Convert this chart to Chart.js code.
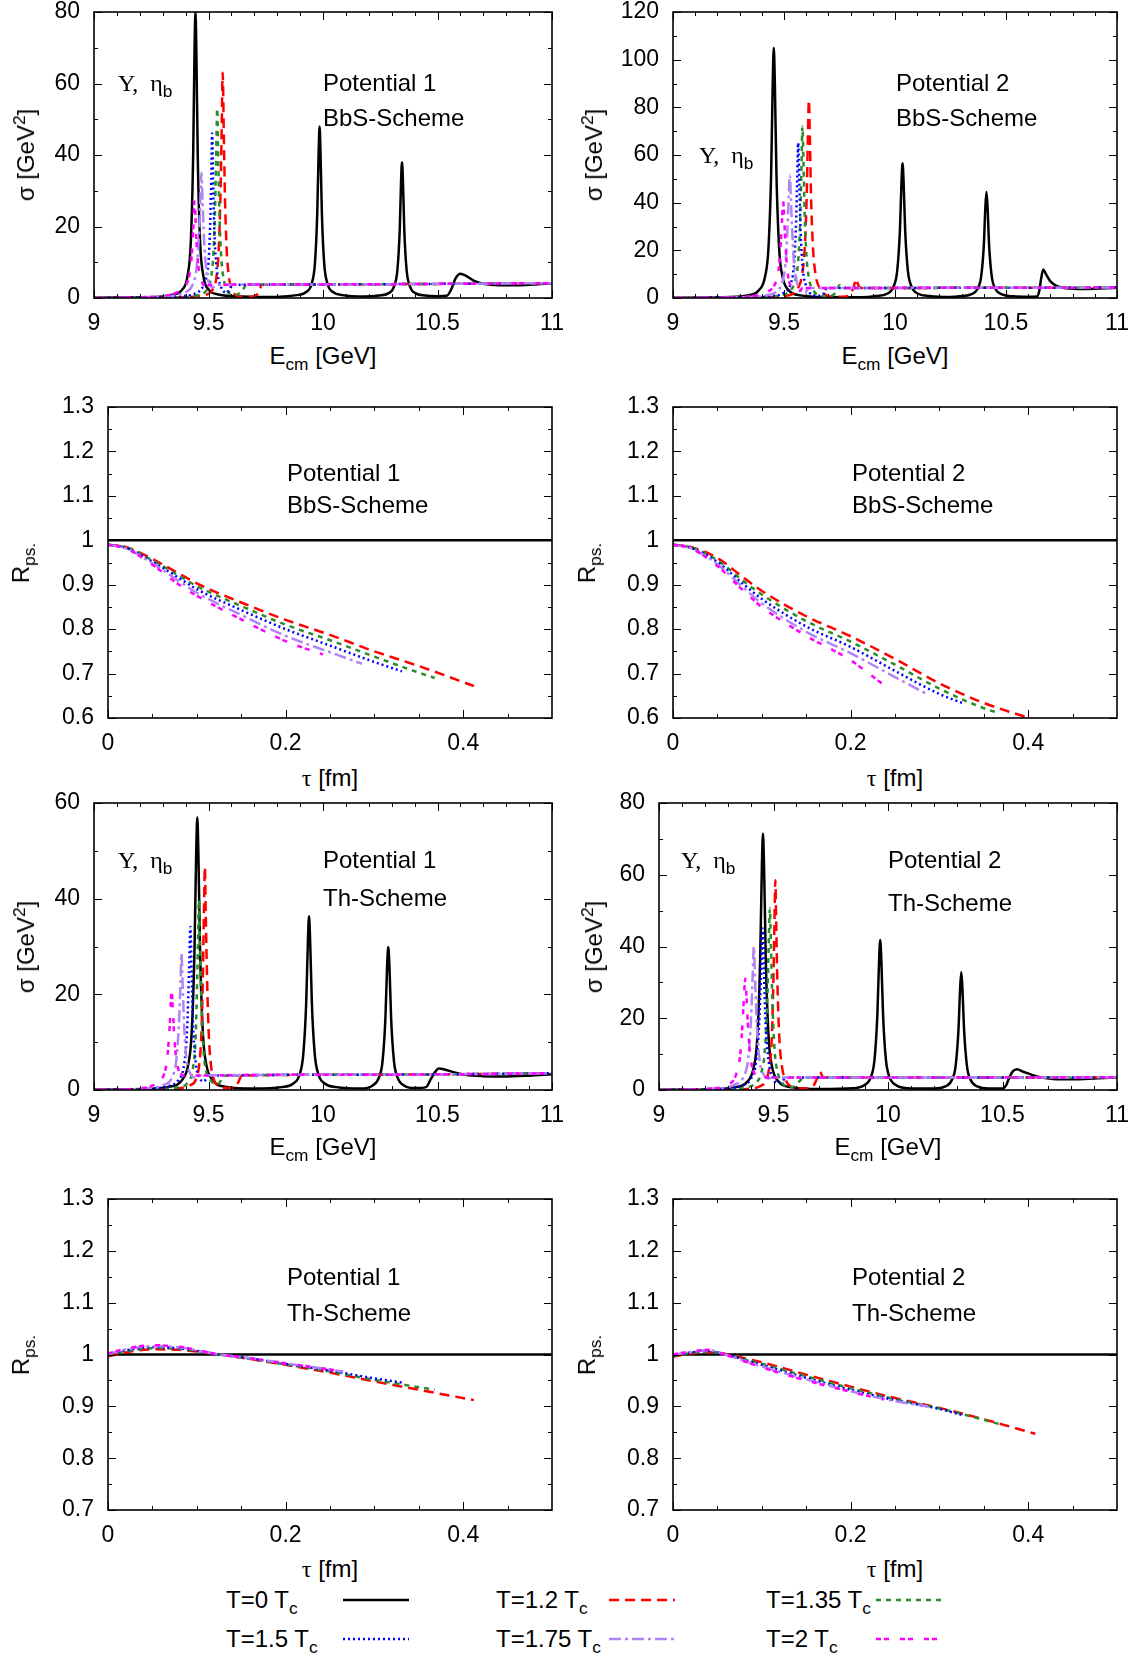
<!DOCTYPE html>
<html>
<head>
<meta charset="utf-8">
<script src="https://cdn.jsdelivr.net/npm/chart.js@4.4.1/dist/chart.umd.min.js"></script>
<style>
body { margin: 0; background: #fff; overflow: hidden; }
#fig { position: relative; width: 1139px; height: 1660px; overflow: hidden;
       font-family: 'Liberation Sans', Arial, sans-serif; color: #000; }
#fig canvas, #fig svg { position: absolute; }
.t { position: absolute; white-space: nowrap; line-height: 1; font-size: 24px; }
.c { transform: translate(-50%, -50%); }
.v { transform: translate(-50%, -50%) rotate(-90deg); }
.l { transform: translate(0, -50%); }
sub, sup { font-size: 0.72em; line-height: 0; }
.g { font-family: 'Liberation Serif', 'Times New Roman', serif; }
</style>
</head>
<body>
<div id="fig"></div>
<script>
// temperatures, one line per curve
const tempLabels = ['T=0 T', 'T=1.2 T', 'T=1.35 T', 'T=1.5 T', 'T=1.75 T', 'T=2 T']
const tempColors = ['#000000', '#ff0000', '#2a8c2a', '#0000ff', '#b283f5', '#ff00ff']
const tempDashes = [[], [10, 6], [5, 5], [2, 3], [12, 4, 3, 4], [5, 3, 5, 11]]

// tick values
const ticksE = [9, 9.5, 10, 10.5, 11]
const ticksELabels = ['9', '9.5', '10', '10.5', '11']
const minorE = [9.1, 9.2, 9.3, 9.4, 9.6, 9.7, 9.8, 9.9, 10.1, 10.2, 10.3, 10.4, 10.6, 10.7, 10.8, 10.9]
const ticksTau = [0, 0.2, 0.4]
const ticksTauLabels = ['0', '0.2', '0.4']
const minorTau = [0.05, 0.1, 0.15, 0.25, 0.3, 0.35, 0.45]
const ticksSig60 = [0, 20, 40, 60]
const minorSig60 = [10, 30, 50]
const ticksSig80 = [0, 20, 40, 60, 80]
const minorSig80 = [10, 30, 50, 70]
const ticksSig120 = [0, 20, 40, 60, 80, 100, 120]
const minorSig120 = [10, 30, 50, 70, 90, 110]
const ticksR6 = [0.6, 0.7, 0.8, 0.9, 1, 1.1, 1.2, 1.3]
const ticksR6Labels = ['0.6', '0.7', '0.8', '0.9', '1', '1.1', '1.2', '1.3']
const minorR6 = [0.65, 0.75, 0.85, 0.95, 1.05, 1.15, 1.25]
const ticksR7 = [0.7, 0.8, 0.9, 1, 1.1, 1.2, 1.3]
const ticksR7Labels = ['0.7', '0.8', '0.9', '1', '1.1', '1.2', '1.3']
const minorR7 = [0.75, 0.85, 0.95, 1.05, 1.15, 1.25]

// ---- Potential 1, BbS scheme : sigma vs E_cm ----
const sigBbs1_T0 = [[9.0,0.1],[9.2,0.2],[9.3,0.4],[9.343,0.9],[9.383,2.2],[9.408,6],[9.423,16],[9.433,40],[9.439,69],[9.443,80],[9.447,69],[9.453,40],[9.463,16],[9.478,6],[9.503,2.2],[9.543,1.0],[9.62,0.5],[9.75,0.3],[9.885,0.8],[9.925,1.6],[9.95,3.9],[9.965,9.9],[9.975,24],[9.981,41],[9.985,48],[9.989,41],[9.995,24],[10.005,9.9],[10.02,3.9],[10.045,1.6],[10.085,0.8],[10.18,0.4],[10.245,0.7],[10.285,1.3],[10.31,3.2],[10.325,7.9],[10.335,19],[10.341,33],[10.345,38],[10.349,33],[10.355,19],[10.365,7.9],[10.38,3.2],[10.405,1.3],[10.445,0.7],[10.5,0.5],[10.54,0.6],[10.56,2.4],[10.58,5.6],[10.6,6.8],[10.625,6.2],[10.66,4.8],[10.7,4.0],[10.77,3.6],[10.85,3.6],[10.95,3.9],[11.0,4.1]]
const sigBbs1_T12 = [[9.0,0],[9.3,0.1],[9.42,0.3],[9.47,0.7],[9.5,1.2],[9.52,2.6],[9.535,6],[9.545,14],[9.552,28],[9.557,45],[9.562,63],[9.567,45],[9.572,28],[9.579,14],[9.589,6],[9.6,2.6],[9.615,1.0],[9.64,0.4],[9.67,0.3],[9.7,0.5],[9.715,1.2],[9.725,2.6],[9.732,3.7],[10.0,3.8],[10.5,3.95],[11.0,4.15]]
const sigBbs1_T135 = [[9.0,0],[9.3,0.1],[9.42,0.4],[9.46,0.9],[9.49,2.0],[9.508,4.8],[9.52,11],[9.528,23],[9.533,38],[9.538,53],[9.543,38],[9.548,23],[9.556,11],[9.568,4.8],[9.582,2.0],[9.6,1.0],[9.62,0.9],[9.64,1.6],[9.655,2.8],[9.665,3.7],[10.0,3.8],[10.5,3.95],[11.0,4.15]]
const sigBbs1_T15 = [[9.0,0],[9.3,0.2],[9.4,0.6],[9.44,1.2],[9.47,2.6],[9.488,5],[9.5,10],[9.507,20],[9.512,33],[9.516,46],[9.52,33],[9.525,20],[9.533,10],[9.545,5],[9.56,2.4],[9.575,1.5],[9.59,2.0],[9.605,3.7],[10.0,3.8],[10.5,3.95],[11.0,4.15]]
const sigBbs1_T175 = [[9.0,0],[9.25,0.2],[9.35,0.7],[9.4,1.6],[9.43,3.6],[9.447,8],[9.458,17],[9.464,27],[9.469,35],[9.474,27],[9.48,17],[9.49,8],[9.505,3.8],[9.52,3.0],[9.535,3.7],[10.0,3.8],[10.5,3.95],[11.0,4.15]]
const sigBbs1_T2 = [[9.0,0],[9.2,0.2],[9.3,0.6],[9.36,1.5],[9.4,3.5],[9.418,7],[9.429,14],[9.435,22],[9.439,27.5],[9.444,21],[9.45,13],[9.46,7],[9.475,4],[9.49,3.4],[9.51,3.7],[10.0,3.8],[10.5,3.95],[11.0,4.15]]

// ---- Potential 2, BbS scheme : sigma vs E_cm ----
const sigBbs2_T0 = [[9.0,0.1],[9.2,0.3],[9.334,1.1],[9.384,3.0],[9.414,8.7],[9.43,21],[9.442,52],[9.449,89],[9.454,105],[9.459,89],[9.466,52],[9.478,21],[9.494,8.7],[9.524,3.0],[9.574,1.1],[9.7,0.4],[9.85,0.3],[9.914,0.8],[9.964,1.8],[9.994,4.9],[10.01,11.5],[10.022,28],[10.029,48],[10.034,56.5],[10.039,48],[10.046,28],[10.058,11.5],[10.074,4.9],[10.104,1.8],[10.154,0.8],[10.25,0.4],[10.292,0.7],[10.342,1.5],[10.372,3.9],[10.388,9],[10.4,22],[10.407,38],[10.412,44.5],[10.417,38],[10.424,22],[10.436,9],[10.452,3.9],[10.482,1.5],[10.532,0.7],[10.6,0.5],[10.64,0.6],[10.65,3],[10.658,8],[10.668,12],[10.68,10],[10.7,7],[10.73,5],[10.77,4.1],[10.85,3.8],[10.95,4.1],[11.0,4.3]]
const sigBbs2_T12 = [[9.0,0],[9.3,0.1],[9.45,0.4],[9.5,0.8],[9.54,1.8],[9.565,4.5],[9.582,10],[9.594,22],[9.602,42],[9.607,65],[9.612,83],[9.617,65],[9.622,42],[9.63,22],[9.642,10],[9.66,4.2],[9.68,1.8],[9.7,0.8],[9.74,0.5],[9.78,0.6],[9.8,1.8],[9.815,5],[9.824,8],[9.83,6.5],[9.838,4.8],[9.85,4.2],[10.2,4.25],[10.7,4.3],[11.0,4.4]]
const sigBbs2_T135 = [[9.0,0],[9.3,0.1],[9.45,0.6],[9.5,1.4],[9.53,3.2],[9.552,8],[9.566,18],[9.574,36],[9.579,56],[9.583,72],[9.588,56],[9.593,36],[9.601,18],[9.613,8],[9.632,3.2],[9.655,1.2],[9.69,0.6],[9.72,1.2],[9.74,3.5],[9.75,5.5],[9.758,4.5],[9.77,4.2],[10.2,4.25],[10.7,4.3],[11.0,4.4]]
const sigBbs2_T15 = [[9.0,0],[9.3,0.2],[9.45,0.9],[9.5,2.2],[9.528,5.5],[9.544,13],[9.553,28],[9.559,48],[9.564,65],[9.569,48],[9.575,28],[9.584,13],[9.598,5.5],[9.615,2.2],[9.64,1.0],[9.66,0.9],[9.68,2.0],[9.695,4.5],[9.705,4.2],[10.2,4.25],[10.7,4.3],[11.0,4.4]]
const sigBbs2_T175 = [[9.0,0],[9.3,0.3],[9.42,1.2],[9.47,3.0],[9.495,7.5],[9.508,16],[9.516,30],[9.521,42],[9.526,51.5],[9.531,42],[9.536,30],[9.544,16],[9.556,7.5],[9.575,3.0],[9.595,2.2],[9.61,4.2],[10.2,4.25],[10.7,4.3],[11.0,4.4]]
const sigBbs2_T2 = [[9.0,0],[9.25,0.3],[9.38,1.2],[9.43,2.8],[9.46,6],[9.476,12],[9.486,24],[9.491,33],[9.496,41],[9.501,33],[9.507,22],[9.516,11],[9.53,5],[9.55,2.8],[9.57,3.0],[9.585,4.2],[10.2,4.25],[10.7,4.3],[11.0,4.4]]

// ---- Potential 1, BbS scheme : R_ps vs tau ----
const rBbs1_T0 = [[0,1],[0.5,1]]
const rBbs1_T12 = [[0,0.99],[0.02,0.985],[0.05,0.958],[0.08,0.925],[0.1,0.903],[0.15,0.86],[0.2,0.821],[0.25,0.787],[0.3,0.75],[0.35,0.717],[0.412,0.672]]
const rBbs1_T135 = [[0,0.99],[0.02,0.984],[0.05,0.955],[0.08,0.92],[0.1,0.897],[0.15,0.852],[0.2,0.81],[0.25,0.775],[0.3,0.738],[0.35,0.702],[0.368,0.69]]
const rBbs1_T15 = [[0,0.99],[0.02,0.983],[0.05,0.952],[0.08,0.915],[0.1,0.89],[0.15,0.843],[0.2,0.8],[0.25,0.763],[0.3,0.726],[0.331,0.705]]
const rBbs1_T175 = [[0,0.99],[0.02,0.982],[0.05,0.948],[0.08,0.908],[0.1,0.882],[0.15,0.832],[0.2,0.785],[0.25,0.748],[0.286,0.722]]
const rBbs1_T2 = [[0,0.99],[0.02,0.982],[0.05,0.945],[0.08,0.9],[0.1,0.875],[0.15,0.822],[0.2,0.773],[0.242,0.743]]

// ---- Potential 2, BbS scheme : R_ps vs tau ----
const rBbs2_T0 = [[0,1],[0.5,1]]
const rBbs2_T12 = [[0,0.99],[0.02,0.985],[0.05,0.96],[0.08,0.915],[0.1,0.886],[0.15,0.829],[0.2,0.784],[0.25,0.733],[0.3,0.678],[0.35,0.634],[0.404,0.598]]
const rBbs2_T135 = [[0,0.99],[0.02,0.984],[0.05,0.955],[0.08,0.907],[0.1,0.878],[0.15,0.818],[0.2,0.772],[0.25,0.72],[0.3,0.666],[0.35,0.622],[0.367,0.611]]
const rBbs2_T15 = [[0,0.99],[0.02,0.983],[0.05,0.951],[0.08,0.9],[0.1,0.868],[0.15,0.806],[0.2,0.76],[0.25,0.706],[0.3,0.654],[0.328,0.632]]
const rBbs2_T175 = [[0,0.99],[0.02,0.982],[0.05,0.946],[0.08,0.892],[0.1,0.858],[0.15,0.794],[0.2,0.746],[0.25,0.692],[0.285,0.655]]
const rBbs2_T2 = [[0,0.99],[0.02,0.982],[0.05,0.942],[0.08,0.885],[0.1,0.85],[0.15,0.785],[0.2,0.73],[0.237,0.675]]

// ---- Potential 1, Th scheme : sigma vs E_cm ----
const sigTh1_T0 = [[9.0,0.1],[9.2,0.2],[9.331,0.7],[9.381,1.9],[9.411,5.2],[9.426,11.5],[9.4385,28.5],[9.446,49],[9.451,57],[9.456,49],[9.4635,28.5],[9.476,11.5],[9.491,5.2],[9.521,1.9],[9.571,0.7],[9.7,0.3],[9.819,0.6],[9.869,1.3],[9.899,3.4],[9.914,7.5],[9.9265,18],[9.934,31],[9.939,36.3],[9.944,31],[9.9515,18],[9.964,7.5],[9.979,3.4],[10.009,1.3],[10.059,0.6],[10.165,0.3],[10.215,0.9],[10.245,2.7],[10.26,6.0],[10.2725,15],[10.28,26],[10.285,29.9],[10.29,26],[10.2975,15],[10.31,6.0],[10.325,2.7],[10.355,0.9],[10.405,0.4],[10.45,0.6],[10.47,2.2],[10.49,3.8],[10.505,4.5],[10.53,4.3],[10.57,3.7],[10.62,3.2],[10.7,2.9],[10.78,2.8],[10.9,3.0],[11.0,3.3]]
const sigTh1_T12 = [[9.0,0],[9.3,0.1],[9.38,0.4],[9.42,1.0],[9.445,2.2],[9.46,5.5],[9.47,13],[9.476,25],[9.48,37],[9.484,46.6],[9.488,37],[9.493,25],[9.5,13],[9.51,5.5],[9.525,2.0],[9.545,0.8],[9.58,0.4],[9.61,0.6],[9.63,1.6],[9.645,3.0],[10.2,3.2],[10.7,3.35],[11.0,3.5]]
const sigTh1_T135 = [[9.0,0],[9.3,0.2],[9.37,0.6],[9.41,1.6],[9.432,4.5],[9.444,11],[9.451,24],[9.455,33],[9.458,39.7],[9.462,32],[9.468,20],[9.477,9],[9.49,3.8],[9.51,2.0],[9.53,1.2],[9.55,1.6],[9.565,3.0],[10.2,3.2],[10.7,3.35],[11.0,3.5]]
const sigTh1_T15 = [[9.0,0],[9.25,0.3],[9.33,0.9],[9.37,2.2],[9.394,5.5],[9.407,13],[9.415,25],[9.421,34.1],[9.426,25],[9.433,13],[9.445,5.5],[9.46,2.6],[9.48,1.8],[9.5,3.0],[10.2,3.2],[10.7,3.35],[11.0,3.5]]
const sigTh1_T175 = [[9.0,0],[9.22,0.3],[9.3,1.0],[9.34,2.6],[9.36,6.5],[9.372,15],[9.378,23],[9.382,28.5],[9.387,22],[9.394,13],[9.405,6],[9.42,3.5],[9.435,2.6],[9.45,3.0],[10.2,3.2],[10.7,3.35],[11.0,3.5]]
const sigTh1_T2 = [[9.0,0],[9.18,0.3],[9.26,1.0],[9.3,2.6],[9.318,6],[9.33,13],[9.335,18],[9.339,21.2],[9.344,17],[9.352,10],[9.365,5],[9.385,3.2],[9.41,2.8],[9.43,3.0],[10.2,3.2],[10.7,3.35],[11.0,3.5]]

// ---- Potential 2, Th scheme : sigma vs E_cm ----
const sigTh2_T0 = [[9.0,0.1],[9.2,0.2],[9.334,0.8],[9.384,2.2],[9.414,6.4],[9.429,14.3],[9.4415,35.8],[9.449,61.5],[9.454,71.5],[9.459,61.5],[9.4665,35.8],[9.479,14.3],[9.494,6.4],[9.524,2.2],[9.574,0.8],[9.7,0.3],[9.846,0.5],[9.896,1.3],[9.926,3.7],[9.941,8.4],[9.9535,20.9],[9.961,36],[9.966,41.8],[9.971,36],[9.9785,20.9],[9.991,8.4],[10.006,3.7],[10.036,1.3],[10.086,0.5],[10.2,0.4],[10.25,1.0],[10.28,2.9],[10.295,6.6],[10.3075,16.5],[10.315,28.3],[10.32,32.9],[10.325,28.3],[10.3325,16.5],[10.345,6.6],[10.36,2.9],[10.39,1.0],[10.44,0.4],[10.5,0.4],[10.515,1.2],[10.53,3.5],[10.545,5.2],[10.563,5.8],[10.59,5.1],[10.65,3.8],[10.72,3.1],[10.8,3.0],[10.9,3.2],[11.0,3.5]]
const sigTh2_T12 = [[9.0,0],[9.3,0.1],[9.4,0.4],[9.44,1.0],[9.465,2.5],[9.482,6.5],[9.493,15],[9.5,32],[9.504,46],[9.508,58.5],[9.512,46],[9.517,30],[9.525,15],[9.537,6.5],[9.555,2.5],[9.575,1.0],[9.6,0.5],[9.65,0.4],[9.675,1.2],[9.69,3.2],[9.703,5.1],[9.712,4.0],[9.72,3.5],[10.2,3.5],[10.7,3.5],[11.0,3.55]]
const sigTh2_T135 = [[9.0,0],[9.3,0.2],[9.38,0.7],[9.42,1.8],[9.445,4.5],[9.462,11],[9.473,25],[9.479,40],[9.484,50.6],[9.489,40],[9.495,25],[9.505,11],[9.52,4.5],[9.54,1.8],[9.565,0.8],[9.59,1.0],[9.61,2.2],[9.625,3.2],[9.635,3.5],[10.2,3.5],[10.7,3.5],[11.0,3.55]]
const sigTh2_T15 = [[9.0,0],[9.28,0.3],[9.36,1.2],[9.4,3.0],[9.423,7.5],[9.437,18],[9.446,33],[9.452,45],[9.458,33],[9.466,18],[9.48,7.5],[9.5,3.0],[9.52,2.0],[9.54,2.6],[9.555,3.5],[10.2,3.5],[10.7,3.5],[11.0,3.55]]
const sigTh2_T175 = [[9.0,0],[9.25,0.4],[9.33,1.5],[9.37,3.8],[9.39,9],[9.402,20],[9.409,32],[9.414,39.9],[9.42,30],[9.428,17],[9.44,8],[9.46,4],[9.48,3.2],[9.5,3.5],[10.2,3.5],[10.7,3.5],[11.0,3.55]]
const sigTh2_T2 = [[9.0,0],[9.22,0.4],[9.3,1.5],[9.335,4],[9.355,10],[9.366,20],[9.372,27],[9.377,31.1],[9.382,26],[9.39,16],[9.402,8],[9.42,4.2],[9.44,3.3],[9.46,3.5],[10.2,3.5],[10.7,3.5],[11.0,3.55]]

// ---- Potential 1, Th scheme : R_ps vs tau ----
const rTh1_T0 = [[0,1],[0.5,1]]
const rTh1_T12 = [[0,0.996],[0.02,1.004],[0.05,1.01],[0.08,1.009],[0.1,1.006],[0.125,1.0],[0.15,0.994],[0.2,0.98],[0.25,0.965],[0.3,0.948],[0.35,0.932],[0.412,0.912]]
const rTh1_T135 = [[0,0.998],[0.02,1.006],[0.05,1.012],[0.08,1.011],[0.1,1.007],[0.125,1.0],[0.15,0.994],[0.2,0.981],[0.25,0.967],[0.3,0.951],[0.35,0.937],[0.368,0.932]]
const rTh1_T15 = [[0,1.0],[0.02,1.008],[0.05,1.014],[0.08,1.012],[0.1,1.007],[0.125,1.0],[0.15,0.995],[0.2,0.982],[0.25,0.969],[0.3,0.954],[0.331,0.946]]
const rTh1_T175 = [[0,1.0],[0.02,1.01],[0.05,1.016],[0.08,1.014],[0.1,1.008],[0.125,1.0],[0.15,0.995],[0.2,0.983],[0.25,0.971],[0.265,0.967]]
const rTh1_T2 = [[0,1.002],[0.02,1.011],[0.05,1.018],[0.08,1.015],[0.1,1.009],[0.125,1.0],[0.15,0.995],[0.2,0.983],[0.25,0.971],[0.26,0.968]]

// ---- Potential 2, Th scheme : R_ps vs tau ----
const rTh2_T0 = [[0,1],[0.5,1]]
const rTh2_T12 = [[0,0.996],[0.02,1.002],[0.04,1.005],[0.06,1.001],[0.08,0.993],[0.1,0.985],[0.15,0.961],[0.2,0.938],[0.25,0.916],[0.3,0.897],[0.35,0.875],[0.408,0.847]]
const rTh2_T135 = [[0,0.997],[0.02,1.003],[0.04,1.006],[0.06,1.0],[0.08,0.991],[0.1,0.982],[0.15,0.958],[0.2,0.935],[0.25,0.914],[0.3,0.896],[0.35,0.874],[0.367,0.866]]
const rTh2_T15 = [[0,0.998],[0.02,1.004],[0.04,1.007],[0.06,1.0],[0.08,0.99],[0.1,0.98],[0.15,0.955],[0.2,0.932],[0.25,0.912],[0.3,0.895],[0.328,0.882]]
const rTh2_T175 = [[0,0.999],[0.02,1.005],[0.04,1.008],[0.06,0.999],[0.08,0.988],[0.1,0.977],[0.15,0.952],[0.2,0.929],[0.25,0.91],[0.287,0.9]]
const rTh2_T2 = [[0,1.0],[0.02,1.006],[0.04,1.009],[0.06,0.999],[0.08,0.987],[0.1,0.975],[0.15,0.95],[0.2,0.928],[0.237,0.913]]

Chart.defaults.font.family = "'Liberation Sans', Arial, sans-serif"
Chart.defaults.font.size = 23
Chart.defaults.color = '#000'

const fig = document.querySelector('#fig')

const sigTitle = 'σ [GeV<sup>2</sup>]'
const eTitle = 'E<sub>cm</sub> [GeV]'
const rTitle = 'R<sub>ps.</sub>'
const tauTitle = '<span class="g">τ</span> [fm]'
const upsilon = '<span class="g">Υ,&nbsp; η</span><sub>b</sub>'

// plot boxes (pixels) and what goes in them
const panels = [
    { L: 94, T: 12, R: 552, B: 298, series: [sigBbs1_T0, sigBbs1_T12, sigBbs1_T135, sigBbs1_T15, sigBbs1_T175, sigBbs1_T2],
      x: [9, 11, ticksE, ticksELabels, minorE], y: [0, 80, ticksSig80, ticksSig80.map(String), minorSig80],
      xt: [eTitle, 356], yt: [sigTitle, 26],
      notes: [[323, 83, 'Potential 1'], [323, 118, 'BbS-Scheme'], [118, 83, upsilon]] },
    { L: 673, T: 12, R: 1117, B: 298, series: [sigBbs2_T0, sigBbs2_T12, sigBbs2_T135, sigBbs2_T15, sigBbs2_T175, sigBbs2_T2],
      x: [9, 11, ticksE, ticksELabels, minorE], y: [0, 120, ticksSig120, ticksSig120.map(String), minorSig120],
      xt: [eTitle, 356], yt: [sigTitle, 594],
      notes: [[896, 83, 'Potential 2'], [896, 118, 'BbS-Scheme'], [699, 155, upsilon]] },
    { L: 108, T: 407, R: 552, B: 718, series: [rBbs1_T0, rBbs1_T12, rBbs1_T135, rBbs1_T15, rBbs1_T175, rBbs1_T2],
      x: [0, 0.5, ticksTau, ticksTauLabels, minorTau], y: [0.6, 1.3, ticksR6, ticksR6Labels, minorR6],
      xt: [tauTitle, 778], yt: [rTitle, 21],
      notes: [[287, 473, 'Potential 1'], [287, 505, 'BbS-Scheme']] },
    { L: 673, T: 407, R: 1117, B: 718, series: [rBbs2_T0, rBbs2_T12, rBbs2_T135, rBbs2_T15, rBbs2_T175, rBbs2_T2],
      x: [0, 0.5, ticksTau, ticksTauLabels, minorTau], y: [0.6, 1.3, ticksR6, ticksR6Labels, minorR6],
      xt: [tauTitle, 778], yt: [rTitle, 587],
      notes: [[852, 473, 'Potential 2'], [852, 505, 'BbS-Scheme']] },
    { L: 94, T: 803, R: 552, B: 1090, series: [sigTh1_T0, sigTh1_T12, sigTh1_T135, sigTh1_T15, sigTh1_T175, sigTh1_T2],
      x: [9, 11, ticksE, ticksELabels, minorE], y: [0, 60, ticksSig60, ticksSig60.map(String), minorSig60],
      xt: [eTitle, 1147], yt: [sigTitle, 26],
      notes: [[323, 860, 'Potential 1'], [323, 898, 'Th-Scheme'], [118, 860, upsilon]] },
    { L: 659, T: 803, R: 1117, B: 1090, series: [sigTh2_T0, sigTh2_T12, sigTh2_T135, sigTh2_T15, sigTh2_T175, sigTh2_T2],
      x: [9, 11, ticksE, ticksELabels, minorE], y: [0, 80, ticksSig80, ticksSig80.map(String), minorSig80],
      xt: [eTitle, 1147], yt: [sigTitle, 594],
      notes: [[888, 860, 'Potential 2'], [888, 903, 'Th-Scheme'], [681, 860, upsilon]] },
    { L: 108, T: 1199, R: 552, B: 1510, series: [rTh1_T0, rTh1_T12, rTh1_T135, rTh1_T15, rTh1_T175, rTh1_T2],
      x: [0, 0.5, ticksTau, ticksTauLabels, minorTau], y: [0.7, 1.3, ticksR7, ticksR7Labels, minorR7],
      xt: [tauTitle, 1569], yt: [rTitle, 21],
      notes: [[287, 1277, 'Potential 1'], [287, 1313, 'Th-Scheme']] },
    { L: 673, T: 1199, R: 1117, B: 1510, series: [rTh2_T0, rTh2_T12, rTh2_T135, rTh2_T15, rTh2_T175, rTh2_T2],
      x: [0, 0.5, ticksTau, ticksTauLabels, minorTau], y: [0.7, 1.3, ticksR7, ticksR7Labels, minorR7],
      xt: [tauTitle, 1569], yt: [rTitle, 587],
      notes: [[852, 1277, 'Potential 2'], [852, 1313, 'Th-Scheme']] },
]

//gnuplot style frame: box plus inward major/minor ticks on all four sides
const frame = {
    id: 'frame',
    afterDatasetsDraw(chart, args, o) {
        const { ctx, chartArea: a, scales: { x, y } } = chart
        ctx.save()
        ctx.strokeStyle = '#000'
        ctx.lineWidth = 1
        ctx.beginPath()
        const xt = (vals, len) => vals.forEach(v => {
            const px = Math.round(x.getPixelForValue(v)) + 0.5
            ctx.moveTo(px, a.bottom); ctx.lineTo(px, a.bottom - len)
            ctx.moveTo(px, a.top); ctx.lineTo(px, a.top + len)
        })
        const yt = (vals, len) => vals.forEach(v => {
            const py = Math.round(y.getPixelForValue(v)) + 0.5
            ctx.moveTo(a.left, py); ctx.lineTo(a.left + len, py)
            ctx.moveTo(a.right, py); ctx.lineTo(a.right - len, py)
        })
        xt(o.xMajor, 8); xt(o.xMinor, 4)
        yt(o.yMajor, 8); yt(o.yMinor, 4)
        ctx.stroke()
        ctx.lineWidth = 1.6
        ctx.strokeRect(a.left, a.top, a.width, a.height)
        ctx.restore()
    }
}

function addText(html, x, y, cls) {
    const d = document.createElement('div')
    d.className = 't ' + cls
    d.style.left = x + 'px'
    d.style.top = y + 'px'
    d.innerHTML = html
    fig.append(d)
}

function makePanel(p) {
    //room around the plot box: the scale paddings include the tick padding,
    //so the top/right margins have to be big enough to not push the box in
    const yW = 80, padT = 34, padR = 28, xH = 44
    const w = p.R - p.L + yW + padR, h = p.B - p.T + padT + xH
    const cv = document.createElement('canvas')
    cv.style.left = (p.L - yW) + 'px'
    cv.style.top = (p.T - padT) + 'px'
    cv.style.width = w + 'px'
    cv.style.height = h + 'px'
    cv.width = w
    cv.height = h
    fig.append(cv)
    const [xMin, xMax, xTicks, xLabels, xMinor] = p.x
    const [yMin, yMax, yTicks, yLabels, yMinor] = p.y
    new Chart(cv, {
        type: 'line',
        data: {
            datasets: p.series.map((pts, i) => ({
                label: tempLabels[i],
                data: pts.map(([x, y]) => ({ x, y })),
                borderColor: tempColors[i],
                borderDash: tempDashes[i],
                borderWidth: 2.5,
                pointRadius: 0,
                fill: false,
                cubicInterpolationMode: 'monotone',
                order: 10 - i
            }))
        },
        options: {
            responsive: false,
            animation: false,
            events: [],
            layout: { padding: { top: padT, right: padR, left: 0, bottom: 0 } },
            plugins: {
                legend: { display: false },
                tooltip: { enabled: false },
                frame: { xMajor: xTicks, xMinor: xMinor, yMajor: yTicks, yMinor: yMinor }
            },
            scales: {
                x: {
                    type: 'linear', min: xMin, max: xMax,
                    afterBuildTicks: s => { s.ticks = xTicks.map(v => ({ value: v })) },
                    afterFit: s => { s.height = xH },
                    ticks: { callback: (v, i) => xLabels[i], padding: 12, autoSkip: false, maxRotation: 0 },
                    grid: { display: false, drawTicks: false },
                    border: { display: false }
                },
                y: {
                    type: 'linear', min: yMin, max: yMax,
                    afterBuildTicks: s => { s.ticks = yTicks.map(v => ({ value: v })) },
                    afterFit: s => { s.width = yW },
                    ticks: { callback: (v, i) => yLabels[i], padding: 14, autoSkip: false },
                    grid: { display: false, drawTicks: false },
                    border: { display: false }
                }
            }
        },
        plugins: [frame]
    })
    addText(p.xt[0], (p.L + p.R) / 2, p.xt[1], 'c')
    addText(p.yt[0], p.yt[1], (p.T + p.B) / 2, 'v')
    p.notes.forEach(([x, y, html]) => addText(html, x, y, 'l'))
}

panels.forEach(makePanel)

// legend below the last row: 3 columns x 2 rows, text then a line sample
const legendCols = [[226, 343], [496, 609], [766, 876]]
const legendRows = [1600, 1639]
tempLabels.forEach((lab, i) => {
    const [tx, lx] = legendCols[i % 3]
    const ly = legendRows[Math.floor(i / 3)]
    addText(lab + '<sub>c</sub>', tx, ly, 'l')
    const ns = 'http://www.w3.org/2000/svg'
    const svg = document.createElementNS(ns, 'svg')
    svg.setAttribute('width', 66)
    svg.setAttribute('height', 10)
    svg.style.left = lx + 'px'
    svg.style.top = (ly - 5) + 'px'
    const line = document.createElementNS(ns, 'line')
    line.setAttribute('x1', 0); line.setAttribute('x2', 66)
    line.setAttribute('y1', 5); line.setAttribute('y2', 5)
    line.setAttribute('stroke', tempColors[i])
    line.setAttribute('stroke-width', 2.5)
    if (tempDashes[i].length) line.setAttribute('stroke-dasharray', tempDashes[i].join(' '))
    svg.append(line)
    fig.append(svg)
})
</script>
</body>
</html>
